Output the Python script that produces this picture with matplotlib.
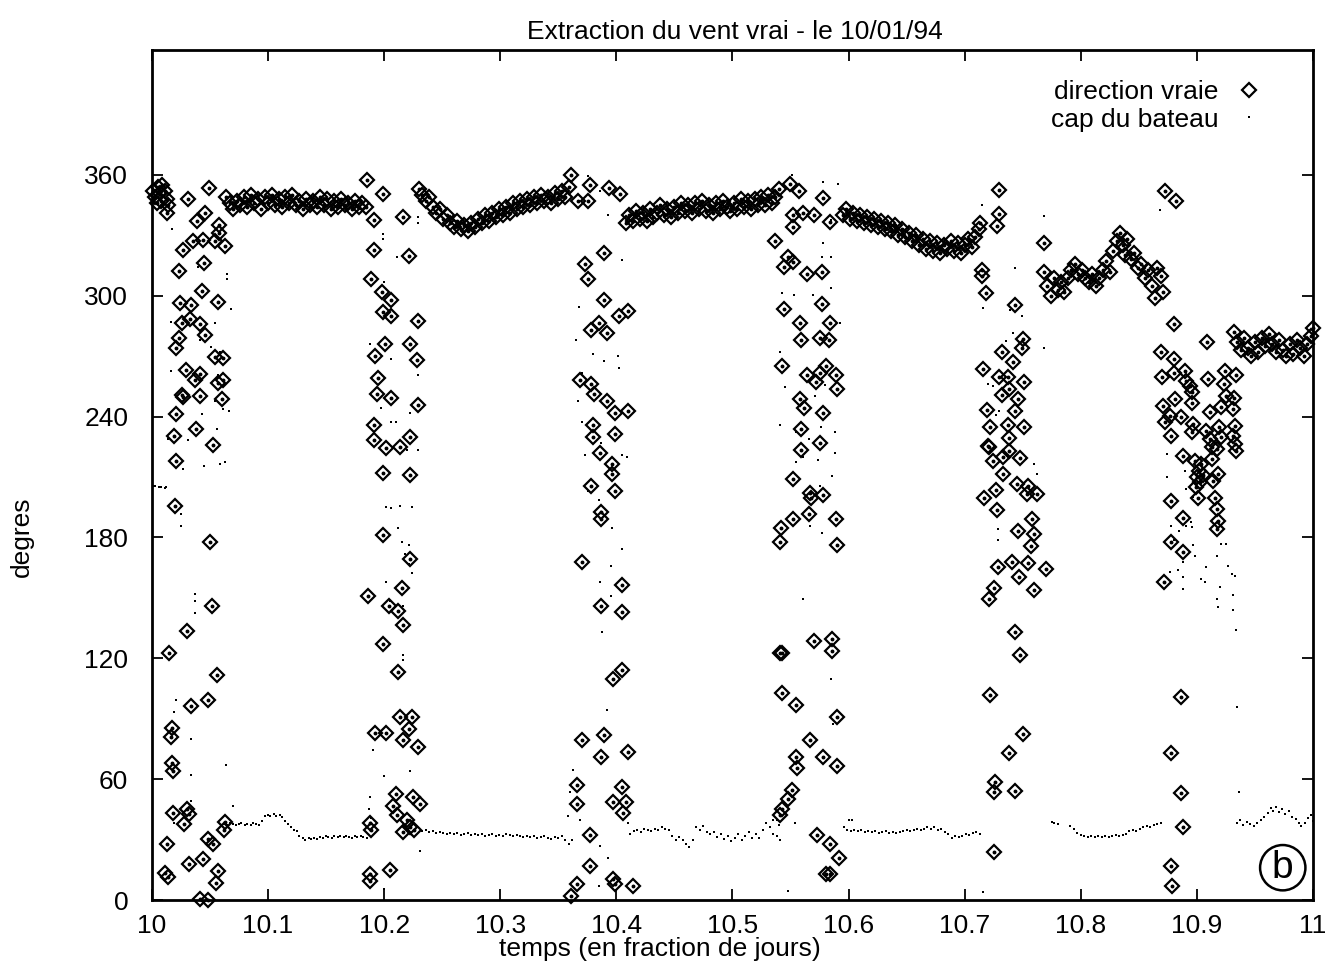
import matplotlib.pyplot as plt
from matplotlib.ticker import FormatStrFormatter

# direction vraie du vent : paliers (vent établi entre deux virements)
dir_palier_t = [
    10.001, 10.003, 10.005, 10.007, 10.009, 10.011, 10.013, 10.004, 10.008,
    10.064, 10.067, 10.070, 10.073, 10.076, 10.079, 10.082, 10.085, 10.088, 10.091,
    10.094, 10.097, 10.100, 10.103, 10.106, 10.109, 10.112, 10.115, 10.118, 10.121,
    10.124, 10.127, 10.130, 10.133, 10.136, 10.139, 10.142, 10.145, 10.148, 10.151,
    10.154, 10.157, 10.160, 10.163, 10.166, 10.169, 10.172, 10.175, 10.178, 10.181, 10.184,
    10.230, 10.233, 10.236, 10.239, 10.242, 10.245, 10.248, 10.251, 10.254, 10.257,
    10.260, 10.263, 10.266, 10.269, 10.272, 10.275, 10.278, 10.281, 10.284, 10.287,
    10.290, 10.293, 10.296, 10.299, 10.302, 10.305, 10.308, 10.311, 10.314, 10.317,
    10.320, 10.323, 10.326, 10.329, 10.332, 10.335, 10.338, 10.341, 10.344, 10.347,
    10.350, 10.353, 10.356, 10.359,
    10.408, 10.411, 10.414, 10.417, 10.420, 10.423, 10.426, 10.429, 10.432, 10.435,
    10.438, 10.441, 10.444, 10.447, 10.450, 10.453, 10.456, 10.459, 10.462, 10.465,
    10.468, 10.471, 10.474, 10.477, 10.480, 10.483, 10.486, 10.489, 10.492, 10.495,
    10.498, 10.501, 10.504, 10.507, 10.510, 10.513, 10.516, 10.519, 10.522, 10.525,
    10.528, 10.531, 10.534, 10.537, 10.540,
    10.595, 10.598, 10.601, 10.604, 10.607, 10.610, 10.613, 10.616, 10.619, 10.622,
    10.625, 10.628, 10.631, 10.634, 10.637, 10.640, 10.643, 10.646, 10.649, 10.652,
    10.655, 10.658, 10.661, 10.664, 10.667, 10.670, 10.673, 10.676, 10.679, 10.682,
    10.685, 10.688, 10.691, 10.694, 10.697, 10.700, 10.703, 10.706, 10.709, 10.712,
    10.768, 10.771, 10.774, 10.777, 10.780, 10.783, 10.786, 10.789, 10.792, 10.795,
    10.798, 10.801, 10.804, 10.807, 10.810, 10.813, 10.816, 10.819, 10.822, 10.825,
    10.828, 10.831, 10.834, 10.836, 10.838, 10.840, 10.843, 10.846, 10.849, 10.852,
    10.855, 10.858, 10.861, 10.864, 10.866, 10.869, 10.871,
    10.932, 10.935, 10.938, 10.941, 10.944, 10.947, 10.950, 10.953, 10.956, 10.959,
    10.962, 10.965, 10.968, 10.971, 10.974, 10.977, 10.980, 10.983, 10.986, 10.989,
    10.992, 10.995, 10.998, 11.000,
]
dir_palier = [
    352, 349, 354, 351, 355, 352, 348, 346, 347,
    349, 346, 343, 347, 345, 349, 344, 350, 346, 348,
    343, 349, 346, 350, 345, 348, 344, 349, 346, 350,
    345, 347, 343, 348, 345, 347, 344, 349, 345, 348,
    343, 347, 344, 348, 345, 346, 343, 347, 344, 346, 344,
    353, 350, 347, 349, 344, 341, 343, 338, 340, 336,
    334, 337, 333, 335, 332, 336, 334, 338, 336, 340,
    337, 341, 339, 343, 340, 344, 341, 346, 343, 347,
    344, 348, 345, 349, 346, 350, 347, 349, 346, 351,
    348, 352, 349, 354,
    336, 340, 337, 342, 338, 341, 337, 343, 339, 341,
    345, 340, 343, 339, 344, 341, 346, 342, 345, 341,
    346, 343, 347, 342, 345, 341, 346, 343, 347, 344,
    342, 346, 343, 348, 344, 347, 343, 348, 345, 349,
    345, 350, 346, 349, 353,
    340, 343, 338, 341, 337, 340, 336, 339, 335, 338,
    334, 337, 333, 336, 332, 335, 330, 333, 329, 331,
    327, 330, 325, 328, 323, 327, 322, 326, 321, 325,
    323, 327, 322, 326, 321, 325, 328, 324, 329, 333,
    312, 305, 300, 309, 303, 307, 302, 309, 313, 316,
    311, 313, 309, 307, 311, 305, 309, 313, 317, 312,
    322, 327, 331, 325, 320, 328, 318, 321, 314, 316,
    309, 313, 305, 299, 314, 310, 302,
    282, 277, 273, 279, 274, 270, 277, 272, 279, 275,
    281, 276, 272, 278, 273, 270, 276, 271, 278, 274,
    270, 276, 280, 284,
]

# direction vraie : points épars pendant les virements de bord
dir_epars_t = [
    10.021, 10.020, 10.050, 10.052, 10.030, 10.015, 10.056, 10.048, 10.034, 10.017,
    10.016, 10.017, 10.018, 10.018, 10.030, 10.032, 10.028, 10.063, 10.062, 10.013,
    10.048, 10.053, 10.044, 10.032, 10.011, 10.014, 10.057, 10.055, 10.041, 10.048,
    10.049, 10.031, 10.013, 10.014, 10.046, 10.039, 10.058, 10.058, 10.027, 10.035,
    10.044, 10.054, 10.063, 10.023, 10.045, 10.043, 10.024, 10.034, 10.057, 10.026,
    10.033, 10.041, 10.046, 10.023, 10.021, 10.054, 10.061, 10.029, 10.041, 10.037,
    10.061, 10.057, 10.026, 10.027, 10.041, 10.060, 10.021, 10.038, 10.019, 10.053,
    10.185, 10.199, 10.191, 10.216, 10.191, 10.221, 10.189, 10.198, 10.206, 10.199,
    10.206, 10.229, 10.201, 10.192, 10.222, 10.228, 10.195, 10.194, 10.206, 10.229,
    10.191, 10.191, 10.202, 10.214, 10.222, 10.199, 10.222, 10.199, 10.222, 10.215,
    10.186, 10.204, 10.212, 10.216, 10.199, 10.212, 10.214, 10.224, 10.192, 10.202,
    10.221, 10.216, 10.229, 10.210, 10.225, 10.208, 10.211, 10.231, 10.188, 10.189,
    10.220, 10.216, 10.226, 10.222, 10.188, 10.188, 10.205,
    10.361, 10.377, 10.394, 10.403, 10.367, 10.376, 10.389, 10.373, 10.376, 10.389,
    10.402, 10.410, 10.378, 10.385, 10.392, 10.369, 10.378, 10.381, 10.392, 10.399,
    10.410, 10.380, 10.380, 10.399, 10.386, 10.396, 10.396, 10.378, 10.399, 10.387,
    10.387, 10.370, 10.405, 10.387, 10.405, 10.405, 10.397, 10.370, 10.389, 10.387,
    10.410, 10.366, 10.366, 10.405, 10.397, 10.408, 10.406, 10.377, 10.377, 10.366,
    10.361, 10.397, 10.399, 10.414,
    10.550, 10.557, 10.578, 10.552, 10.561, 10.570, 10.552, 10.584, 10.537, 10.548,
    10.544, 10.552, 10.564, 10.577, 10.577, 10.544, 10.558, 10.559, 10.575, 10.584,
    10.583, 10.543, 10.564, 10.572, 10.581, 10.589, 10.590, 10.575, 10.558, 10.562,
    10.578, 10.559, 10.575, 10.559, 10.552, 10.567, 10.568, 10.578, 10.566, 10.589,
    10.590, 10.552, 10.542, 10.541, 10.570, 10.586, 10.586, 10.541, 10.543, 10.543,
    10.555, 10.590, 10.567, 10.555, 10.556, 10.578, 10.590, 10.551, 10.548, 10.543,
    10.541, 10.573, 10.584, 10.592, 10.581, 10.584,
    10.730, 10.730, 10.728, 10.713, 10.715, 10.715, 10.718, 10.743, 10.768, 10.750,
    10.749, 10.732, 10.742, 10.716, 10.730, 10.737, 10.751, 10.738, 10.732, 10.746,
    10.743, 10.719, 10.722, 10.737, 10.751, 10.720, 10.738, 10.721, 10.724, 10.733,
    10.738, 10.748, 10.733, 10.727, 10.717, 10.728, 10.745, 10.755, 10.754, 10.762,
    10.758, 10.746, 10.760, 10.757, 10.729, 10.741, 10.755, 10.770, 10.747, 10.725,
    10.721, 10.760, 10.743, 10.748, 10.722, 10.750, 10.738, 10.726, 10.725, 10.743,
    10.725,
    10.873, 10.882, 10.880, 10.909, 10.869, 10.880, 10.870, 10.880, 10.890, 10.891,
    10.910, 10.924, 10.934, 10.896, 10.894, 10.923, 10.925, 10.932, 10.871, 10.881,
    10.896, 10.877, 10.886, 10.897, 10.911, 10.921, 10.931, 10.873, 10.878, 10.896,
    10.908, 10.919, 10.933, 10.911, 10.921, 10.931, 10.913, 10.933, 10.888, 10.898,
    10.904, 10.913, 10.917, 10.934, 10.918, 10.914, 10.903, 10.901, 10.916, 10.917,
    10.918, 10.917, 10.878, 10.888, 10.878, 10.888, 10.872, 10.886, 10.878, 10.886,
    10.888, 10.878, 10.879, 10.900, 10.902, 10.899, 10.905,
]
dir_epars = [
    218, 195.5, 177.6, 146, 133.5, 122.6, 111.5, 99.5, 96.3, 85.6,
    81, 67.8, 64, 43, 45, 42.5, 37.5, 38.5, 35, 28,
    30.4, 27.6, 20.3, 17.8, 13.2, 11.2, 14.5, 8.3, 0.5, 0,
    353.6, 347.8, 341, 345, 341, 337, 335, 331.3, 322.6, 327,
    327.5, 327, 324.7, 312.3, 316.5, 302.4, 296.6, 295.5, 297, 286.4,
    288.3, 286, 280.4, 278.8, 274.3, 269.4, 269, 263, 261, 258,
    258.3, 256.6, 250.7, 249.5, 250.4, 248.7, 241.3, 234, 230.3, 226,
    357.7, 350.6, 337.8, 339, 322.6, 319.5, 308.5, 302, 298, 292,
    290, 287.5, 275.8, 270, 275.8, 268, 259.4, 251.2, 249, 246,
    236, 228.3, 224.3, 224.8, 230, 212, 211, 181, 169.4, 155,
    151, 146, 143.6, 136.6, 127.3, 113.2, 91, 91, 82.8, 82.8,
    85, 79.3, 75.8, 52.4, 51.2, 46.6, 42, 47.7, 38.4, 34.9,
    39.5, 33.7, 34.9, 36, 12.7, 9.2, 15,
    360, 355, 353.7, 350.6, 347.1, 347.1, 321.4, 315.6, 308.5, 298,
    289.8, 292.2, 282.8, 286.3, 281.6, 258.3, 256, 251.2, 247.7, 241.9,
    243, 236, 230, 231.3, 222, 216.6, 211.5, 205.6, 203.3, 192.8,
    189.3, 168, 156.5, 146, 143.2, 114.4, 109.7, 79.3, 81.7, 71.1,
    73.5, 57, 47.7, 56, 48.9, 48.9, 43, 32.5, 17, 8,
    2, 10.3, 8, 6.8,
    355.3, 351.8, 348.3, 340, 341.3, 340, 334.3, 336.6, 327.3, 319,
    314.4, 316.7, 310.9, 312, 295.7, 293.3, 286.3, 278, 279, 286.3,
    278, 265, 260.6, 257, 265.3, 260.6, 253.6, 261.8, 248.9, 244.2,
    242, 233.7, 226.7, 223.2, 209, 202, 199.8, 201, 191.6, 189.3,
    176.4, 189.3, 184.6, 177.6, 128.4, 129.6, 123.8, 122.6, 122.6, 102.7,
    96.9, 91, 79.3, 71, 65.3, 71, 66.4, 54.8, 50, 45.4,
    42, 32.5, 28, 20.9, 12.7, 12.7,
    352.3, 340.8, 334.5, 336.3, 313, 310, 301.4, 295.5, 326, 278.5,
    274.3, 272.3, 266.9, 263.6, 259.8, 259.8, 257, 253.7, 250.9, 248.7,
    243, 243.3, 235, 235.8, 235, 225.6, 229.4, 225, 217.8, 220.1,
    222.7, 219.4, 211.5, 203.6, 199.6, 193.4, 206.6, 205.7, 201.6, 201.6,
    189.2, 183.1, 181.8, 176, 165.3, 167.7, 167.2, 164.4, 160.3, 155,
    149.4, 153.7, 133, 121.5, 101.6, 82.6, 73, 58.7, 53.7, 54.2,
    23.6,
    352, 347, 286.2, 276.8, 272.3, 268.5, 259.8, 261.4, 262.8, 257.8,
    258.6, 262.4, 260.8, 252, 255.3, 256.1, 250.3, 249.2, 245.4, 248.7,
    246.5, 240.5, 239.7, 236.3, 242.1, 244.6, 243.8, 237.1, 230.5, 232.2,
    233, 234.6, 235.5, 228.9, 229.7, 230.5, 224.7, 226.4, 220.6, 217.8,
    216.5, 219, 224, 222.8, 211.5, 208.2, 207.4, 199.6, 199.6, 194.2,
    188.4, 184.3, 198, 189.7, 177.6, 172.7, 157.8, 100.8, 73, 53.2,
    36.3, 16.9, 6.9, 210, 213, 205, 211,
]

# cap du bateau : bords tenus
cap_t = [
    10.062, 10.065, 10.067, 10.070, 10.072, 10.075, 10.077, 10.080, 10.082, 10.085,
    10.087, 10.090, 10.092, 10.095, 10.097, 10.100, 10.102, 10.105, 10.107, 10.110,
    10.112, 10.115, 10.117, 10.120, 10.122, 10.125, 10.127, 10.130, 10.132, 10.135,
    10.137, 10.140, 10.142, 10.145, 10.147, 10.150, 10.152, 10.155, 10.157, 10.160,
    10.162, 10.165, 10.167, 10.170, 10.172, 10.175, 10.177, 10.180, 10.182, 10.185,
    10.233, 10.236, 10.239, 10.242, 10.245, 10.248, 10.251, 10.254, 10.257, 10.260,
    10.263, 10.266, 10.269, 10.272, 10.275, 10.278, 10.281, 10.284, 10.287, 10.290,
    10.293, 10.296, 10.299, 10.302, 10.305, 10.308, 10.311, 10.314, 10.317, 10.320,
    10.323, 10.326, 10.329, 10.332, 10.335, 10.338, 10.341, 10.344, 10.347, 10.350,
    10.353, 10.356, 10.359, 10.362,
    10.412, 10.415, 10.418, 10.421, 10.424, 10.427, 10.430, 10.433, 10.436, 10.439,
    10.442, 10.445, 10.448, 10.451, 10.454, 10.457, 10.460, 10.463, 10.466, 10.469,
    10.472, 10.475, 10.478, 10.481, 10.484, 10.487, 10.490, 10.493, 10.496, 10.499,
    10.502, 10.505, 10.508, 10.511, 10.514, 10.517, 10.520, 10.523, 10.526, 10.529,
    10.532, 10.535, 10.538, 10.541,
    10.596, 10.599, 10.602, 10.605, 10.608, 10.611, 10.614, 10.617, 10.620, 10.623,
    10.626, 10.629, 10.632, 10.635, 10.638, 10.641, 10.644, 10.647, 10.650, 10.653,
    10.656, 10.659, 10.662, 10.665, 10.668, 10.671, 10.674, 10.677, 10.680, 10.683,
    10.686, 10.689, 10.692, 10.695, 10.698, 10.701, 10.704, 10.707, 10.710, 10.713,
    10.775, 10.777, 10.780, 10.791, 10.794, 10.797, 10.800, 10.803, 10.806, 10.809,
    10.812, 10.815, 10.818, 10.821, 10.824, 10.827, 10.830, 10.833, 10.836, 10.839,
    10.842, 10.845, 10.848, 10.851, 10.854, 10.857, 10.860, 10.863, 10.866, 10.869,
    10.935, 10.937, 10.940, 10.943, 10.946, 10.949, 10.952, 10.955, 10.958, 10.961,
    10.964, 10.966, 10.968, 10.971, 10.973, 10.976, 10.979, 10.982, 10.985, 10.988,
    10.990, 10.993, 10.996, 10.998, 11.000,
]
cap = [
    37.5, 37, 38, 37.5, 37, 37.5, 38, 37, 37.5, 37,
    38, 37.5, 37, 39, 41.5, 42, 41.5, 42.5, 41.5, 42,
    41, 39, 37.5, 36, 35, 34.5, 32, 31, 30, 31,
    30.5, 31, 30.5, 31.5, 31, 32, 31.5, 31, 32, 31.5,
    32, 31.5, 32, 31.5, 31, 32, 31.5, 32, 31.5, 31,
    34.5, 35, 34, 34.5, 33.5, 34, 33.5, 33, 33.5, 33,
    33.5, 32.5, 33, 33.5, 32.5, 33, 32.5, 33, 32, 32.5,
    33, 32, 32.5, 32, 33, 32.5, 32, 32.5, 32, 31.5,
    32, 31.5, 32, 31, 31.5, 32, 31, 30.5, 31.5, 31,
    32, 30, 28, 30,
    33, 34.5, 35, 34, 35.5, 35, 34.5, 35.5, 35, 36,
    35.5, 35, 32, 30, 31.5, 30, 28, 26.5, 30, 36,
    35, 36.5, 34, 33, 34, 31.5, 33, 30.5, 32, 29.5,
    31, 33, 30, 32, 34, 31, 33, 31, 35, 38,
    36, 33, 32, 30,
    36, 35, 34.5, 35, 34.5, 35, 34, 34.5, 34, 34.5,
    33.5, 34, 34.5, 33.5, 34, 33.5, 34, 34.5, 35, 34.5,
    35, 35.5, 35, 35.5, 36, 35.5, 36, 35, 35.5, 34,
    33, 31, 32, 31.5, 32, 33, 32.5, 33.5, 34, 33,
    38.5, 38, 37.5, 36.5, 35.5, 33.5, 32.5, 32, 31.5, 32,
    31.5, 32, 31.5, 32, 31.5, 32, 32.5, 32, 32.5, 33,
    34.5, 35, 34.5, 35.5, 36, 36.5, 36, 37, 37.5, 38,
    38, 39.5, 37, 38.5, 37.5, 36.5, 38, 39.5, 41, 43,
    45.5, 44, 46, 43.5, 45, 42.5, 44, 41, 40, 38,
    36.5, 38, 40.5, 42, 39,
]

# cap du bateau : points épars pendant les virements
cap_epars_t = [
    10.001, 10.003, 10.006, 10.008, 10.011, 10.0125,
    10.017, 10.040, 10.065, 10.065, 10.068, 10.016, 10.041, 10.051, 10.059, 10.054,
    10.016, 10.057, 10.054, 10.061, 10.066, 10.043, 10.014, 10.031, 10.056, 10.027,
    10.045, 10.059, 10.063, 10.025, 10.025, 10.037, 10.037, 10.037, 10.021, 10.019,
    10.034, 10.064, 10.034, 10.070, 10.034, 10.019,
    10.199, 10.199, 10.211, 10.200, 10.229, 10.229, 10.188, 10.206, 10.229, 10.197,
    10.222, 10.206, 10.210, 10.220, 10.229, 10.202, 10.206, 10.214, 10.224, 10.212,
    10.215, 10.221, 10.218, 10.221, 10.224, 10.202, 10.205, 10.216, 10.216, 10.216,
    10.190, 10.200, 10.222, 10.188, 10.187, 10.189, 10.231, 10.200,
    10.386, 10.376, 10.405, 10.393, 10.368, 10.365, 10.380, 10.389, 10.401, 10.402,
    10.370, 10.367, 10.370, 10.373, 10.387, 10.405, 10.409, 10.376, 10.385, 10.388,
    10.396, 10.405, 10.395, 10.386, 10.395, 10.388, 10.392, 10.363, 10.360, 10.369,
    10.358, 10.386, 10.393, 10.410, 10.385,
    10.551, 10.578, 10.591, 10.585, 10.578, 10.577, 10.585, 10.543, 10.553, 10.585,
    10.569, 10.593, 10.541, 10.545, 10.571, 10.580, 10.541, 10.555, 10.566, 10.576,
    10.588, 10.561, 10.574, 10.588, 10.586, 10.555, 10.575, 10.567, 10.577, 10.561,
    10.585, 10.587, 10.535, 10.538, 10.540, 10.554, 10.600, 10.603, 10.548,
    10.715, 10.768, 10.743, 10.716, 10.749, 10.739, 10.768, 10.742, 10.736, 10.720,
    10.724, 10.730, 10.727, 10.746, 10.749, 10.753, 10.760, 10.762, 10.729, 10.729,
    10.716,
    10.868, 10.874, 10.874, 10.890, 10.891, 10.897, 10.901, 10.878, 10.885, 10.880,
    10.891, 10.895, 10.896, 10.897, 10.898, 10.888, 10.888, 10.888, 10.877, 10.884,
    10.904, 10.907, 10.908, 10.917, 10.921, 10.925, 10.920, 10.917, 10.918, 10.930,
    10.933, 10.931, 10.931, 10.927, 10.934, 10.935, 10.936,
]
cap_epars = [
    205.5, 205.6, 205, 205, 204.5, 205,
    333, 314.4, 311, 308.5, 293.3, 286.8, 278, 274.6, 272.3, 286.3,
    262.5, 260.6, 247.7, 243.8, 242.6, 241.4, 229, 228.3, 233.7, 213.8,
    215.7, 216.6, 217.3, 191.6, 185.7, 151.8, 148.3, 142.5, 99.2, 93.3,
    79.8, 66.9, 62.3, 46.7, 49, 38.4,
    330.8, 328.4, 319, 307, 336, 339, 275.8, 268.8, 260.6, 244.2,
    241.9, 237.2, 237.2, 223.2, 223.2, 195, 194.6, 195.6, 195, 184.6,
    177.6, 176.4, 171.7, 167, 162.4, 157.7, 148.3, 146, 121.4, 119,
    74.7, 61.8, 64.1, 51.2, 45.4, 40.7, 24.4, 5.6,
    351.8, 359.3, 317.9, 340.1, 294.5, 278.1, 271.1, 267.6, 270, 264.1,
    261.8, 247.7, 237.2, 220.8, 226.7, 220.8, 219.7, 203.3, 198.6, 192.8,
    184.6, 174.5, 165.9, 157.7, 150.7, 133.1, 94.5, 64.6, 53.6, 39.5,
    41.9, 26.7, 20.8, 38.4, 6.8,
    360, 356.5, 355.3, 337.8, 326.1, 319, 319, 301.5, 300.4, 303.9,
    300.4, 286.3, 272.3, 254.8, 250, 255.9, 236, 232.5, 229, 234.9,
    232.5, 219.7, 218.5, 222, 210.3, 217.3, 205.6, 185.7, 182.2, 149.5,
    109.7, 87.5, 39.5, 39.5, 37.2, 38.4, 39.5, 39.5, 4.5,
    345, 339.6, 313.7, 294, 290, 292.8, 274.3, 281.3, 277.3, 256,
    255.3, 243, 241, 245, 243, 219, 216.5, 211.5, 184.3, 178.5,
    4.1,
    342.4, 221.4, 209.9, 213.2, 204.1, 200, 196.6, 185.9, 183.4, 178.5,
    185.9, 187.9, 185.1, 176.2, 170.6, 167.7, 160.3, 154.5, 162.8, 163.6,
    159.5, 157.8, 165.3, 171, 176.8, 176.8, 155.3, 149.5, 145.4, 162,
    161.1, 151.2, 143.8, 166, 134.2, 95.8, 53.7,
]

x_ticks = [10, 10.1, 10.2, 10.3, 10.4, 10.5, 10.6, 10.7, 10.8, 10.9, 11]
y_ticks = [0, 60, 120, 180, 240, 300, 360]

plt.rcParams['font.family'] = ['Liberation Sans', 'DejaVu Sans']
fs = 19

fig = plt.figure(figsize=(13.4, 9.69), dpi=100)
ax = fig.add_axes([0.1134, 0.0712, 0.8664, 0.8772])

dir_t = dir_palier_t + dir_epars_t
dir_d = dir_palier + dir_epars
cap_all_t = cap_t + cap_epars_t
cap_all = cap + cap_epars

ax.plot(dir_t, dir_d, linestyle='none', marker='D', ms=7.2, mfc='none',
        mec='black', mew=1.6, clip_on=False, label='direction vraie')
ax.plot(dir_t, dir_d, linestyle='none', marker='o', ms=1.8, color='black',
        clip_on=False)
ax.plot(cap_all_t, cap_all, linestyle='none', marker='s', ms=2.1,
        color='black', mew=0, label='cap du bateau')

ax.set_xlim(10, 11)
ax.set_ylim(0, 422)
ax.set_xticks(x_ticks)
ax.set_yticks(y_ticks)
ax.xaxis.set_major_formatter(FormatStrFormatter('%g'))
ax.tick_params(direction='in', length=8, width=1.3, top=True, right=True,
               labelsize=fs)
ax.tick_params(axis='x', pad=10)
ax.tick_params(axis='y', pad=17)
for s in ax.spines.values():
    s.set_linewidth(2)

leg = ax.legend(loc='upper right', bbox_to_anchor=(0.956, 0.965),
                frameon=False, markerfirst=False, fontsize=fs,
                handlelength=1.0, handletextpad=0.65, labelspacing=0.15,
                borderpad=0, borderaxespad=0)

fig.text(0.5485, 0.967, 'Extraction du vent vrai - le 10/01/94',
         ha='center', va='center', fontsize=fs)
fig.text(0.4925, 0.021, 'temps (en fraction de jours)',
         ha='center', va='center', fontsize=fs)
fig.text(0.016, 0.446, 'degres', rotation=90,
         ha='center', va='center', fontsize=fs)

ax.text(0.974, 0.038, 'b', transform=ax.transAxes, fontsize=28,
        ha='center', va='center',
        bbox=dict(boxstyle='circle,pad=0.12', fc='white', ec='black', lw=1.8))

fig.savefig('out.png', dpi=100)
